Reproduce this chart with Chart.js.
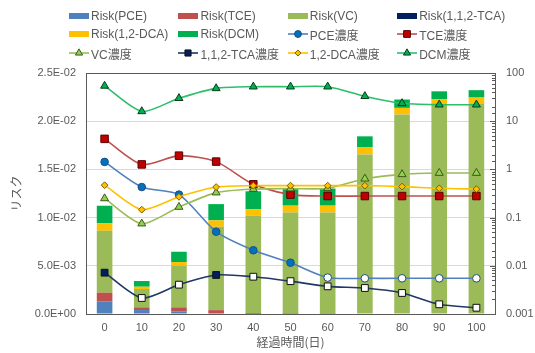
<!DOCTYPE html>
<html><head><meta charset="utf-8">
<script src="https://cdn.jsdelivr.net/npm/chart.js@4"></script>
<style>
html,body{margin:0;padding:0;background:#fff;}
#wrap{position:relative;width:535px;height:353px;overflow:hidden;}
#c{position:absolute;left:0;top:0;}
.lg{position:absolute;display:flex;align-items:center;font:12px "Liberation Sans","Noto Sans CJK JP",sans-serif;color:#595959;white-space:nowrap;height:16px;}
.lg canvas{margin-right:2px;}
</style></head><body>
<div id="wrap"><canvas id="c" width="535" height="353"></canvas></div>
<script>
// ---- data ----
const days = ['0','10','20','30','40','50','60','70','80','90','100'];
const yLeftTicks = [0, 0.005, 0.01, 0.015, 0.02, 0.025];
const riskPCE = [0.00128,0.00041,0.00028,0.00005,0.00002,0.00001,0,0,0,0,0];
const riskTCE = [0.00093,0.00028,0.00041,0.00035,0.00007,0.00003,0.00002,0,0,0,0];
const riskVC  = [0.00642,0.00190,0.00432,0.00865,0.01010,0.01048,0.01050,0.01655,0.02070,0.02175,0.02180];
const riskTCA = [0,0,0,0,0,0,0,0,0,0,0];
const riskDCA = [0.00080,0.00024,0.00038,0.00066,0.00069,0.00072,0.00072,0.00073,0.00068,0.00055,0.00065];
const riskDCM = [0.00180,0.00059,0.00107,0.00169,0.00185,0.00178,0.00178,0.00115,0.00087,0.00080,0.00077];
const concPCE = [1.43,0.43,0.30,0.051,0.021,0.0116,0.0057,0.0055,0.0055,0.0055,0.0055];
const concTCE = [4.3,1.27,1.93,1.45,0.49,0.30,0.28,0.28,0.28,0.28,0.28];
const concVC  = [0.25,0.075,0.166,0.33,0.39,0.40,0.405,0.64,0.79,0.84,0.84];
const concTCA = [0.0072,0.00215,0.00406,0.00645,0.00594,0.0048,0.00375,0.00346,0.00273,0.00159,0.00135];
const concDCA = [0.47,0.146,0.27,0.43,0.46,0.46,0.46,0.46,0.44,0.405,0.39];
const concDCM = [54,16,30,48,52,52,52,33,23.5,22,22];
const pceBelowLimit = [0,0,0,0,0,0,1,1,1,1,1];
const tcaBelowLimit = [0,1,1,0,1,1,1,1,1,1,1];
const barLabels = ['Risk(PCE)','Risk(TCE)','Risk(VC)','Risk(1,1,2-TCA)','Risk(1,2-DCA)','Risk(DCM)'];
const lineLabels = ['PCE濃度','TCE濃度','VC濃度','1,1,2-TCA濃度','1,2-DCA濃度','DCM濃度'];

// ---- styles ----
const barColors = ['#4F81BD','#C0504D','#9BBB59','#002060','#FFC000','#00B050'];
const lineStyles = [
  {line:'#4F81BD', fill:'#0070C0', edge:'#1F4E79', shape:'circle', r:3.8},
  {line:'#C0504D', fill:'#C00000', edge:'#5A0000', shape:'rect', r:5.3},
  {line:'#9BBB59', fill:'#92D050', edge:'#3A5A1A', shape:'triangle', r:4.6},
  {line:'#1F3864', fill:'#002060', edge:'#111111', shape:'rect', r:4.8},
  {line:'#FFC000', fill:'#FFC000', edge:'#7F6000', shape:'rectRot', r:3.4},
  {line:'#2DBE6C', fill:'#00B050', edge:'#0B3B1E', shape:'triangle', r:4.6}
];
const riskData = [riskPCE,riskTCE,riskVC,riskTCA,riskDCA,riskDCM];
const concData = [concPCE,concTCE,concVC,concTCA,concDCA,concDCM];
const openFlags = [pceBelowLimit,null,null,tcaBelowLimit,null,null];

const datasets = [];
riskData.forEach((d,i)=>{
  datasets.push({type:'bar', label:barLabels[i], data:d, backgroundColor:barColors[i],
    yAxisID:'y', stack:'risk', order:10, barPercentage:0.42, categoryPercentage:1, borderWidth:0});
});
concData.forEach((d,i)=>{
  const s = lineStyles[i];
  const fl = openFlags[i];
  datasets.push({type:'line', label:lineLabels[i], data:d, yAxisID:'y2', order:6-i,
    borderColor:s.line, borderWidth:1.6, tension:0.25, fill:false,
    pointStyle:s.shape, pointRadius:s.r, pointBorderWidth:1, pointBorderColor:s.edge,
    pointBackgroundColor: fl ? d.map((v,k)=> fl[k] ? '#FFFFFF' : s.fill) : s.fill});
});

const TXT = '#595959';
const numFont = {family:'"Liberation Sans", Arial, sans-serif', size:11};
const jpFont = {family:'"Noto Sans CJK JP", sans-serif', size:12};

const framePlugin = {
  id:'frame',
  afterDraw(chart){
    const {ctx, chartArea:a} = chart;
    const s = chart.scales.y2;
    ctx.save();
    ctx.strokeStyle = TXT; ctx.lineWidth = 1;
    s.ticks.forEach(t=>{
      const y = Math.round(s.getPixelForValue(t.value)) + 0.5;
      const l = Math.log10(t.value);
      const major = Math.abs(l - Math.round(l)) < 1e-6;
      ctx.beginPath(); ctx.moveTo(a.right - (major?5:3), y); ctx.lineTo(a.right, y); ctx.stroke();
    });
    ctx.strokeStyle = '#595959';
    ctx.strokeRect(Math.round(a.left)+0.5, Math.round(a.top)+0.5, Math.round(a.right-a.left), Math.round(a.bottom-a.top));
    ctx.restore();
  }
};

function fmtExp(v){
  const [m,e] = v.toExponential(1).split('e');
  const n = parseInt(e,10);
  return m + 'E' + (n<0?'-':'+') + String(Math.abs(n)).padStart(2,'0');
}

const chart = new Chart(document.getElementById('c'), {
  type:'bar',
  data:{labels:days, datasets},
  options:{
    responsive:false, animation:false, events:[],
    layout:{padding:{top:73,left:0,right:0,bottom:0}},
    plugins:{legend:{display:false}, tooltip:{enabled:false}},
    scales:{
      x:{stacked:true, offset:true,
        grid:{display:false, drawTicks:false},
        border:{color:TXT},
        ticks:{color:TXT, font:numFont, padding:7},
        title:{display:true, text:'経過時間(日)', color:TXT, font:jpFont, padding:{top:0,bottom:3}},
        afterFit(s){ s.height = 39; }
      },
      y:{stacked:true, position:'left', min:0, max:yLeftTicks[yLeftTicks.length-1],
        afterBuildTicks(s){ s.ticks = yLeftTicks.map(v=>({value:v})); },
        grid:{color:'#D9D9D9', drawTicks:false},
        border:{color:TXT},
        ticks:{color:TXT, font:numFont, padding:10, callback:(v)=>fmtExp(v)},
        title:{display:true, text:'リスク', color:TXT, font:jpFont, padding:{top:9.5,bottom:0}},
        afterFit(s){ s.width = 86; }
      },
      y2:{type:'logarithmic', position:'right', min:0.001, max:100,
        grid:{drawOnChartArea:false, drawTicks:false},
        border:{color:TXT},
        ticks:{color:TXT, font:numFont, padding:11, autoSkip:false,
          callback:(v)=>{ const l=Math.log10(v); return Math.abs(l-Math.round(l))<1e-6 ? String(Number(Number(v).toPrecision(1))) : ''; }},
        afterFit(s){ s.width = 40; }
      }
    }
  },
  plugins:[framePlugin]
});

// ---- HTML legend ----
function drawMarker(ctx, shape, x, y, r){
  ctx.beginPath();
  if(shape==='circle'){ ctx.arc(x,y,r,0,Math.PI*2); }
  else if(shape==='rect'){ const h=r*Math.SQRT1_2; ctx.rect(x-h,y-h,2*h,2*h); }
  else if(shape==='rectRot'){ ctx.moveTo(x,y-r); ctx.lineTo(x+r,y); ctx.lineTo(x,y+r); ctx.lineTo(x-r,y); ctx.closePath(); }
  else if(shape==='triangle'){ ctx.moveTo(x,y-r); ctx.lineTo(x+r*0.866,y+r*0.5); ctx.lineTo(x-r*0.866,y+r*0.5); ctx.closePath(); }
  ctx.fill(); ctx.stroke();
}
const wrap = document.getElementById('wrap');
chart.data.datasets.forEach((ds,i)=>{
  const row = Math.floor(i/4), col = i%4;
  const div = document.createElement('div');
  div.className='lg';
  div.style.left = (69 + col*109.4) + 'px';
  div.style.top = (7.5 + row*18.9) + 'px';
  const cv = document.createElement('canvas');
  cv.width = 20; cv.height = 12;
  const c = cv.getContext('2d');
  if(ds.type==='bar'){
    c.fillStyle = ds.backgroundColor; c.fillRect(0,3,20,6);
  } else {
    const s = lineStyles[i-6];
    c.strokeStyle = s.line; c.lineWidth = 1.6;
    c.beginPath(); c.moveTo(0,6); c.lineTo(20,6); c.stroke();
    c.fillStyle = s.fill; c.strokeStyle = s.edge; c.lineWidth = 1;
    drawMarker(c, s.shape, 10, 6, s.r*0.9);
  }
  div.appendChild(cv);
  const sp = document.createElement('span');
  sp.textContent = ds.label;
  div.appendChild(sp);
  wrap.appendChild(div);
});
</script>
</body></html>
